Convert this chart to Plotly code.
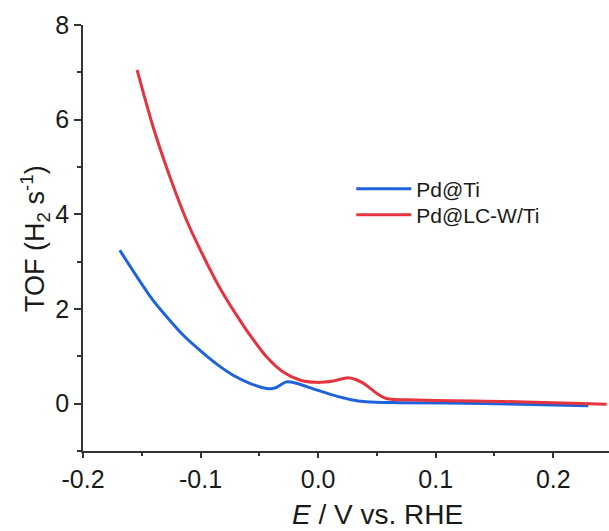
import plotly.graph_objects as go

# Data
pd_ti_E = [-0.1687, -0.1418, -0.129, -0.1149, -0.1007, -0.0865, -0.0723, -0.0581,
           -0.0439, -0.0368, -0.0269, -0.0184, -0.0014, 0.0128, 0.027, 0.041,
           0.0695, 0.14, 0.2298]
pd_ti_tof = [3.24, 2.23, 1.84, 1.45, 1.13, 0.84, 0.60, 0.43,
             0.32, 0.33, 0.46, 0.43, 0.29, 0.18, 0.09, 0.04,
             0.02, 0.005, -0.045]

pd_lcw_E = [-0.154, -0.1404, -0.1262, -0.112, -0.0979, -0.0837, -0.0694, -0.058,
            -0.0439, -0.0298, -0.0156, -0.0014, 0.0128, 0.0255, 0.033, 0.041,
            0.0497, 0.058, 0.0837, 0.1689, 0.2454]
pd_lcw_tof = [7.05, 5.85, 4.80, 3.88, 3.13, 2.45, 1.87, 1.45,
              0.99, 0.67, 0.50, 0.45, 0.48, 0.55, 0.50, 0.39,
              0.22, 0.11, 0.076, 0.04, -0.01]

series_names = ["Pd@Ti", "Pd@LC-W/Ti"]
x_ticks = [-0.2, -0.1, 0.0, 0.1, 0.2]
y_ticks = [0, 2, 4, 6, 8]

FONT = "Liberation Sans, Arial, sans-serif"
BLUE = "#1f63dc"
RED = "#e5343e"
TXT = "#1a1a1a"

fig = go.Figure()
fig.add_trace(go.Scatter(x=pd_ti_E, y=pd_ti_tof, mode="lines", name=series_names[0],
                         legend="legend",
                         line=dict(color=BLUE, width=3, shape="spline", smoothing=0.8)))
fig.add_trace(go.Scatter(x=pd_lcw_E, y=pd_lcw_tof, mode="lines", name=series_names[1],
                         legend="legend2",
                         line=dict(color=RED, width=3, shape="spline", smoothing=0.8)))

leg_common = dict(xanchor="left", yanchor="middle", itemwidth=55,
                  font=dict(size=21, family=FONT, color=TXT),
                  bgcolor="rgba(0,0,0,0)")

fig.update_layout(
    width=609, height=531,
    margin=dict(l=83, r=0, t=25, b=80),
    paper_bgcolor="white", plot_bgcolor="white",
    font=dict(family=FONT, color=TXT),
    showlegend=True,
    legend=dict(x=0.51, y=0.615, **leg_common),
    legend2=dict(x=0.51, y=0.554, **leg_common),
    xaxis=dict(range=[-0.2, 0.2474], tickvals=x_ticks, ticktext=[f"{v:.1f}" for v in x_ticks],
               ticks="outside", ticklen=5, tickwidth=1.5, tickcolor="#333",
               showline=True, linecolor="#333", linewidth=1.5,
               showgrid=False, zeroline=False,
               tickfont=dict(size=25, family=FONT, color=TXT),
               minor=dict(dtick=0.05, tick0=-0.2, ticks="outside", ticklen=3,
                          tickwidth=1.5, tickcolor="#333", showgrid=False)),
    yaxis=dict(range=[-1, 8], tickvals=y_ticks,
               ticks="outside", ticklen=7, tickwidth=1.5, tickcolor="#333",
               showline=True, linecolor="#333", linewidth=1.5,
               showgrid=False, zeroline=False,
               tickfont=dict(size=25, family=FONT, color=TXT),
               minor=dict(dtick=1, tick0=-1, ticks="outside", ticklen=4,
                          tickwidth=1.5, tickcolor="#333", showgrid=False)),
    annotations=[
        dict(text="<i>E</i> / V vs. RHE", xref="paper", yref="paper",
             x=0.559, y=-0.148, xanchor="center", yanchor="middle",
             showarrow=False, font=dict(size=28, family=FONT, color=TXT)),
        dict(text="TOF (H<sub>2</sub> s<sup>-1</sup>)", xref="paper", yref="paper",
             x=-0.0913, y=0.5, xanchor="center", yanchor="middle", textangle=-90,
             showarrow=False, font=dict(size=27, family=FONT, color=TXT)),
    ],
)

fig.write_html("out.html")
